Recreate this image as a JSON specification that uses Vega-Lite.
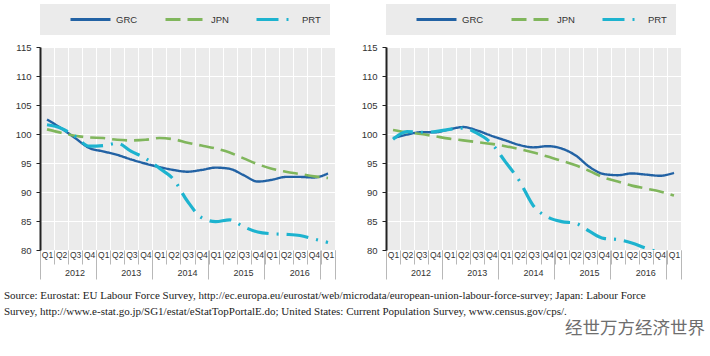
{
  "$schema": "https://vega.github.io/schema/vega-lite/v6.json",
  "background": "#ffffff",
  "padding": {"left": 4, "top": 4, "right": 0, "bottom": 0},
  "datasets": {
    "left": [
      {"t": "2012Q1", "series": "GRC", "v": 102.5}, {"t": "2012Q2", "series": "GRC", "v": 101.0}, {"t": "2012Q3", "series": "GRC", "v": 99.3}, {"t": "2012Q4", "series": "GRC", "v": 97.6},
      {"t": "2013Q1", "series": "GRC", "v": 97.0}, {"t": "2013Q2", "series": "GRC", "v": 96.4}, {"t": "2013Q3", "series": "GRC", "v": 95.6}, {"t": "2013Q4", "series": "GRC", "v": 94.9},
      {"t": "2014Q1", "series": "GRC", "v": 94.3}, {"t": "2014Q2", "series": "GRC", "v": 93.8}, {"t": "2014Q3", "series": "GRC", "v": 93.5}, {"t": "2014Q4", "series": "GRC", "v": 93.8},
      {"t": "2015Q1", "series": "GRC", "v": 94.2}, {"t": "2015Q2", "series": "GRC", "v": 94.0}, {"t": "2015Q3", "series": "GRC", "v": 92.9}, {"t": "2015Q4", "series": "GRC", "v": 91.8},
      {"t": "2016Q1", "series": "GRC", "v": 92.1}, {"t": "2016Q2", "series": "GRC", "v": 92.6}, {"t": "2016Q3", "series": "GRC", "v": 92.6}, {"t": "2016Q4", "series": "GRC", "v": 92.5},
      {"t": "2017Q1", "series": "GRC", "v": 93.2},
      {"t": "2012Q1", "series": "JPN", "v": 100.8}, {"t": "2012Q2", "series": "JPN", "v": 100.2}, {"t": "2012Q3", "series": "JPN", "v": 99.7}, {"t": "2012Q4", "series": "JPN", "v": 99.4},
      {"t": "2013Q1", "series": "JPN", "v": 99.3}, {"t": "2013Q2", "series": "JPN", "v": 99.0}, {"t": "2013Q3", "series": "JPN", "v": 98.9}, {"t": "2013Q4", "series": "JPN", "v": 99.0},
      {"t": "2014Q1", "series": "JPN", "v": 99.3}, {"t": "2014Q2", "series": "JPN", "v": 99.1}, {"t": "2014Q3", "series": "JPN", "v": 98.5}, {"t": "2014Q4", "series": "JPN", "v": 98.0},
      {"t": "2015Q1", "series": "JPN", "v": 97.5}, {"t": "2015Q2", "series": "JPN", "v": 96.8}, {"t": "2015Q3", "series": "JPN", "v": 95.8}, {"t": "2015Q4", "series": "JPN", "v": 94.8},
      {"t": "2016Q1", "series": "JPN", "v": 94.0}, {"t": "2016Q2", "series": "JPN", "v": 93.5}, {"t": "2016Q3", "series": "JPN", "v": 93.1}, {"t": "2016Q4", "series": "JPN", "v": 92.7},
      {"t": "2017Q1", "series": "JPN", "v": 92.4},
      {"t": "2012Q1", "series": "PRT", "v": 101.6}, {"t": "2012Q2", "series": "PRT", "v": 101.0}, {"t": "2012Q3", "series": "PRT", "v": 99.6}, {"t": "2012Q4", "series": "PRT", "v": 97.9},
      {"t": "2013Q1", "series": "PRT", "v": 98.0}, {"t": "2013Q2", "series": "PRT", "v": 98.4}, {"t": "2013Q3", "series": "PRT", "v": 97.0}, {"t": "2013Q4", "series": "PRT", "v": 95.8},
      {"t": "2014Q1", "series": "PRT", "v": 94.1}, {"t": "2014Q2", "series": "PRT", "v": 92.2}, {"t": "2014Q3", "series": "PRT", "v": 88.4}, {"t": "2014Q4", "series": "PRT", "v": 85.6},
      {"t": "2015Q1", "series": "PRT", "v": 84.9}, {"t": "2015Q2", "series": "PRT", "v": 85.2}, {"t": "2015Q3", "series": "PRT", "v": 84.0}, {"t": "2015Q4", "series": "PRT", "v": 83.1},
      {"t": "2016Q1", "series": "PRT", "v": 82.8}, {"t": "2016Q2", "series": "PRT", "v": 82.7}, {"t": "2016Q3", "series": "PRT", "v": 82.5}, {"t": "2016Q4", "series": "PRT", "v": 81.9},
      {"t": "2017Q1", "series": "PRT", "v": 81.3}
    ],
    "right": [
      {"t": "2012Q1", "series": "GRC", "v": 99.3}, {"t": "2012Q2", "series": "GRC", "v": 99.9}, {"t": "2012Q3", "series": "GRC", "v": 100.3}, {"t": "2012Q4", "series": "GRC", "v": 100.3},
      {"t": "2013Q1", "series": "GRC", "v": 100.8}, {"t": "2013Q2", "series": "GRC", "v": 101.2}, {"t": "2013Q3", "series": "GRC", "v": 100.6}, {"t": "2013Q4", "series": "GRC", "v": 99.7},
      {"t": "2014Q1", "series": "GRC", "v": 98.9}, {"t": "2014Q2", "series": "GRC", "v": 98.1}, {"t": "2014Q3", "series": "GRC", "v": 97.7}, {"t": "2014Q4", "series": "GRC", "v": 97.9},
      {"t": "2015Q1", "series": "GRC", "v": 97.5}, {"t": "2015Q2", "series": "GRC", "v": 96.3}, {"t": "2015Q3", "series": "GRC", "v": 94.3}, {"t": "2015Q4", "series": "GRC", "v": 93.1},
      {"t": "2016Q1", "series": "GRC", "v": 92.9}, {"t": "2016Q2", "series": "GRC", "v": 93.2}, {"t": "2016Q3", "series": "GRC", "v": 93.0}, {"t": "2016Q4", "series": "GRC", "v": 92.8},
      {"t": "2017Q1", "series": "GRC", "v": 93.3},
      {"t": "2012Q1", "series": "JPN", "v": 100.7}, {"t": "2012Q2", "series": "JPN", "v": 100.3}, {"t": "2012Q3", "series": "JPN", "v": 100.0}, {"t": "2012Q4", "series": "JPN", "v": 99.6},
      {"t": "2013Q1", "series": "JPN", "v": 99.2}, {"t": "2013Q2", "series": "JPN", "v": 98.9}, {"t": "2013Q3", "series": "JPN", "v": 98.6}, {"t": "2013Q4", "series": "JPN", "v": 98.3},
      {"t": "2014Q1", "series": "JPN", "v": 97.9}, {"t": "2014Q2", "series": "JPN", "v": 97.4}, {"t": "2014Q3", "series": "JPN", "v": 96.8}, {"t": "2014Q4", "series": "JPN", "v": 96.1},
      {"t": "2015Q1", "series": "JPN", "v": 95.4}, {"t": "2015Q2", "series": "JPN", "v": 94.6}, {"t": "2015Q3", "series": "JPN", "v": 93.6}, {"t": "2015Q4", "series": "JPN", "v": 92.5},
      {"t": "2016Q1", "series": "JPN", "v": 91.8}, {"t": "2016Q2", "series": "JPN", "v": 91.1}, {"t": "2016Q3", "series": "JPN", "v": 90.6}, {"t": "2016Q4", "series": "JPN", "v": 90.1},
      {"t": "2017Q1", "series": "JPN", "v": 89.4},
      {"t": "2012Q1", "series": "PRT", "v": 99.1}, {"t": "2012Q2", "series": "PRT", "v": 100.4}, {"t": "2012Q3", "series": "PRT", "v": 100.3}, {"t": "2012Q4", "series": "PRT", "v": 100.4},
      {"t": "2013Q1", "series": "PRT", "v": 100.8}, {"t": "2013Q2", "series": "PRT", "v": 101.0}, {"t": "2013Q3", "series": "PRT", "v": 100.1}, {"t": "2013Q4", "series": "PRT", "v": 98.4},
      {"t": "2014Q1", "series": "PRT", "v": 95.2}, {"t": "2014Q2", "series": "PRT", "v": 91.9}, {"t": "2014Q3", "series": "PRT", "v": 87.6}, {"t": "2014Q4", "series": "PRT", "v": 85.7},
      {"t": "2015Q1", "series": "PRT", "v": 84.9}, {"t": "2015Q2", "series": "PRT", "v": 84.6}, {"t": "2015Q3", "series": "PRT", "v": 83.2}, {"t": "2015Q4", "series": "PRT", "v": 82.0},
      {"t": "2016Q1", "series": "PRT", "v": 81.8}, {"t": "2016Q2", "series": "PRT", "v": 81.2}, {"t": "2016Q3", "series": "PRT", "v": 80.3}, {"t": "2016Q4", "series": "PRT", "v": 79.6},
      {"t": "2017Q1", "series": "PRT", "v": 79.1}
    ]
  },
  "bounds": "flush",
  "spacing": 51,
  "resolve": {"legend": {"color": "independent", "strokeDash": "independent"}},
  "hconcat": [
    {
      "width": 295,
      "height": 203,
      "data": {"name": "left"},
      "title": {
        "text": [
          "Source: Eurostat: EU Labour Force Survey, http://ec.europa.eu/eurostat/web/microdata/european-union-labour-force-survey; Japan: Labour Force",
          "Survey, http://www.e-stat.go.jp/SG1/estat/eStatTopPortalE.do; United States: Current Population Survey, www.census.gov/cps/."
        ],
        "orient": "bottom", "anchor": "start", "frame": "group", "dx": -36, "offset": 10,
        "font": "Liberation Serif", "fontSize": 11, "fontWeight": "normal", "color": "#222222", "lineHeight": 16
      },
      "resolve": {"axis": {"x": "independent", "y": "independent"}},
      "layer": [
        {
          "transform": [{"filter": "datum.series === 'GRC'"}],
          "mark": {"type": "line", "interpolate": "monotone", "strokeWidth": 2.4, "clip": true},
          "encoding": {
            "x": {"field": "t", "type": "ordinal", "bandPosition": 0.5, "scale": {"type": "band", "paddingInner": 0, "paddingOuter": 0},
              "axis": {"orient": "bottom", "title": null, "labelExpr": "datum.value ? slice(datum.value, 4) : ''", "tickBand": "extent", "tickSize": 14, "tickColor": "#b8b8b8", "domain": false, "grid": true, "gridColor": "#ffffff", "labelPadding": -14, "labelFontSize": 8.5, "labelColor": "#333333", "labelAngle": 0, "labelOverlap": false, "labelFlush": false}},
            "y": {"field": "v", "type": "quantitative", "scale": {"domain": [80, 115], "nice": false, "zero": false},
              "axis": {"values": [80, 85, 90, 95, 100, 105, 110, 115], "title": null, "grid": true, "gridColor": "#ffffff", "domainColor": "#222222", "domainWidth": 2, "tickColor": "#222222", "tickSize": 4, "labelFontSize": 9.5, "labelColor": "#333333", "labelPadding": 5}},
            "color": {"field": "series", "type": "nominal", "scale": {"domain": ["GRC", "JPN", "PRT"], "range": ["#2262a4", "#80b65c", "#1db3cf"]}},
            "strokeDash": {"field": "series", "type": "nominal", "scale": {"domain": ["GRC", "JPN", "PRT"], "range": [[1, 0], [15, 7], [22, 8, 2, 8]]}}
          }
        },
        {
          "transform": [{"filter": "datum.series === 'JPN'"}],
          "mark": {"type": "line", "interpolate": "monotone", "strokeWidth": 2.6, "clip": true},
          "encoding": {
            "x": {"field": "t", "type": "ordinal", "bandPosition": 0.5, "scale": {"type": "band", "paddingInner": 0, "paddingOuter": 0},
              "axis": {"orient": "bottom", "title": null, "values": ["2012Q1", "2013Q1", "2014Q1", "2015Q1", "2016Q1", "2017Q1"], "bandPosition": 0, "labelExpr": "datum.value && datum.value !== '2017Q1' ? slice(datum.value, 0, 4) : ''", "labelOffset": 28, "labelAlign": "center", "tickSize": 29, "tickColor": "#b8b8b8", "domain": false, "grid": false, "labelPadding": -11, "labelFontSize": 9, "labelColor": "#333333", "labelAngle": 0, "labelOverlap": false, "labelFlush": false}},
            "y": {"field": "v", "type": "quantitative", "scale": {"domain": [80, 115], "nice": false, "zero": false}, "axis": null},
            "color": {"field": "series", "type": "nominal", "scale": {"domain": ["GRC", "JPN", "PRT"], "range": ["#2262a4", "#80b65c", "#1db3cf"]}},
            "strokeDash": {"field": "series", "type": "nominal", "scale": {"domain": ["GRC", "JPN", "PRT"], "range": [[1, 0], [15, 7], [22, 8, 2, 8]]}}
          }
        },
        {
          "transform": [{"filter": "datum.series === 'PRT'"}],
          "mark": {"type": "line", "interpolate": "monotone", "strokeWidth": 3.2, "clip": true},
          "encoding": {
            "x": {"field": "t", "type": "ordinal", "bandPosition": 0.5, "scale": {"type": "band", "paddingInner": 0, "paddingOuter": 0},
              "axis": {"orient": "bottom", "title": null, "values": ["2017Q1"], "bandPosition": 1, "labels": false, "tickSize": 29, "tickColor": "#b8b8b8", "domain": false, "grid": false}},
            "y": {"field": "v", "type": "quantitative", "scale": {"domain": [80, 115], "nice": false, "zero": false}, "axis": null},
            "color": {"field": "series", "type": "nominal", "scale": {"domain": ["GRC", "JPN", "PRT"], "range": ["#2262a4", "#80b65c", "#1db3cf"]}},
            "strokeDash": {"field": "series", "type": "nominal", "scale": {"domain": ["GRC", "JPN", "PRT"], "range": [[1, 0], [15, 7], [22, 8, 2, 8]]}}
          }
        }
      ]
    },
    {
      "width": 295,
      "height": 203,
      "data": {"name": "right"},
      "title": {
        "text": "经世万方经济世界",
        "orient": "bottom", "anchor": "end", "frame": "group", "dx": 24, "offset": 40,
        "font": "Noto Sans CJK SC", "fontSize": 17.5, "fontWeight": "normal", "color": "#6e6e6e"
      },
      "resolve": {"axis": {"x": "independent", "y": "independent"}},
      "layer": [
        {
          "transform": [{"filter": "datum.series === 'GRC'"}],
          "mark": {"type": "line", "interpolate": "monotone", "strokeWidth": 2.4, "clip": true},
          "encoding": {
            "x": {"field": "t", "type": "ordinal", "bandPosition": 0.5, "scale": {"type": "band", "paddingInner": 0, "paddingOuter": 0},
              "axis": {"orient": "bottom", "title": null, "labelExpr": "datum.value ? slice(datum.value, 4) : ''", "tickBand": "extent", "tickSize": 14, "tickColor": "#b8b8b8", "domain": false, "grid": true, "gridColor": "#ffffff", "labelPadding": -14, "labelFontSize": 8.5, "labelColor": "#333333", "labelAngle": 0, "labelOverlap": false, "labelFlush": false}},
            "y": {"field": "v", "type": "quantitative", "scale": {"domain": [80, 115], "nice": false, "zero": false},
              "axis": {"values": [80, 85, 90, 95, 100, 105, 110, 115], "title": null, "grid": true, "gridColor": "#ffffff", "domainColor": "#222222", "domainWidth": 2, "tickColor": "#222222", "tickSize": 4, "labelFontSize": 9.5, "labelColor": "#333333", "labelPadding": 5}},
            "color": {"field": "series", "type": "nominal", "scale": {"domain": ["GRC", "JPN", "PRT"], "range": ["#2262a4", "#80b65c", "#1db3cf"]}},
            "strokeDash": {"field": "series", "type": "nominal", "scale": {"domain": ["GRC", "JPN", "PRT"], "range": [[1, 0], [15, 7], [22, 8, 2, 8]]}}
          }
        },
        {
          "transform": [{"filter": "datum.series === 'JPN'"}],
          "mark": {"type": "line", "interpolate": "monotone", "strokeWidth": 2.6, "clip": true},
          "encoding": {
            "x": {"field": "t", "type": "ordinal", "bandPosition": 0.5, "scale": {"type": "band", "paddingInner": 0, "paddingOuter": 0},
              "axis": {"orient": "bottom", "title": null, "values": ["2012Q1", "2013Q1", "2014Q1", "2015Q1", "2016Q1", "2017Q1"], "bandPosition": 0, "labelExpr": "datum.value && datum.value !== '2017Q1' ? slice(datum.value, 0, 4) : ''", "labelOffset": 28, "labelAlign": "center", "tickSize": 29, "tickColor": "#b8b8b8", "domain": false, "grid": false, "labelPadding": -11, "labelFontSize": 9, "labelColor": "#333333", "labelAngle": 0, "labelOverlap": false, "labelFlush": false}},
            "y": {"field": "v", "type": "quantitative", "scale": {"domain": [80, 115], "nice": false, "zero": false}, "axis": null},
            "color": {"field": "series", "type": "nominal", "scale": {"domain": ["GRC", "JPN", "PRT"], "range": ["#2262a4", "#80b65c", "#1db3cf"]}},
            "strokeDash": {"field": "series", "type": "nominal", "scale": {"domain": ["GRC", "JPN", "PRT"], "range": [[1, 0], [15, 7], [22, 8, 2, 8]]}}
          }
        },
        {
          "transform": [{"filter": "datum.series === 'PRT'"}],
          "mark": {"type": "line", "interpolate": "monotone", "strokeWidth": 3.2, "clip": true},
          "encoding": {
            "x": {"field": "t", "type": "ordinal", "bandPosition": 0.5, "scale": {"type": "band", "paddingInner": 0, "paddingOuter": 0},
              "axis": {"orient": "bottom", "title": null, "values": ["2017Q1"], "bandPosition": 1, "labels": false, "tickSize": 29, "tickColor": "#b8b8b8", "domain": false, "grid": false}},
            "y": {"field": "v", "type": "quantitative", "scale": {"domain": [80, 115], "nice": false, "zero": false}, "axis": null},
            "color": {"field": "series", "type": "nominal", "scale": {"domain": ["GRC", "JPN", "PRT"], "range": ["#2262a4", "#80b65c", "#1db3cf"]}},
            "strokeDash": {"field": "series", "type": "nominal", "scale": {"domain": ["GRC", "JPN", "PRT"], "range": [[1, 0], [15, 7], [22, 8, 2, 8]]}}
          }
        }
      ]
    }
  ],
  "config": {
    "font": "Liberation Sans",
    "view": {"fill": "#ebebeb", "stroke": null},
    "legend": {
      "orient": "top", "direction": "horizontal", "title": null, "fillColor": "#ebebeb", "padding": 9, "offset": 12, "clipHeight": 13,
      "symbolType": "stroke", "symbolSize": 1600, "symbolStrokeWidth": 3, "symbolOffset": 20,
      "labelOffset": 4, "columnPadding": 6, "labelFont": "Liberation Sans", "labelFontSize": 9.5, "labelColor": "#333333"
    }
  }
}
